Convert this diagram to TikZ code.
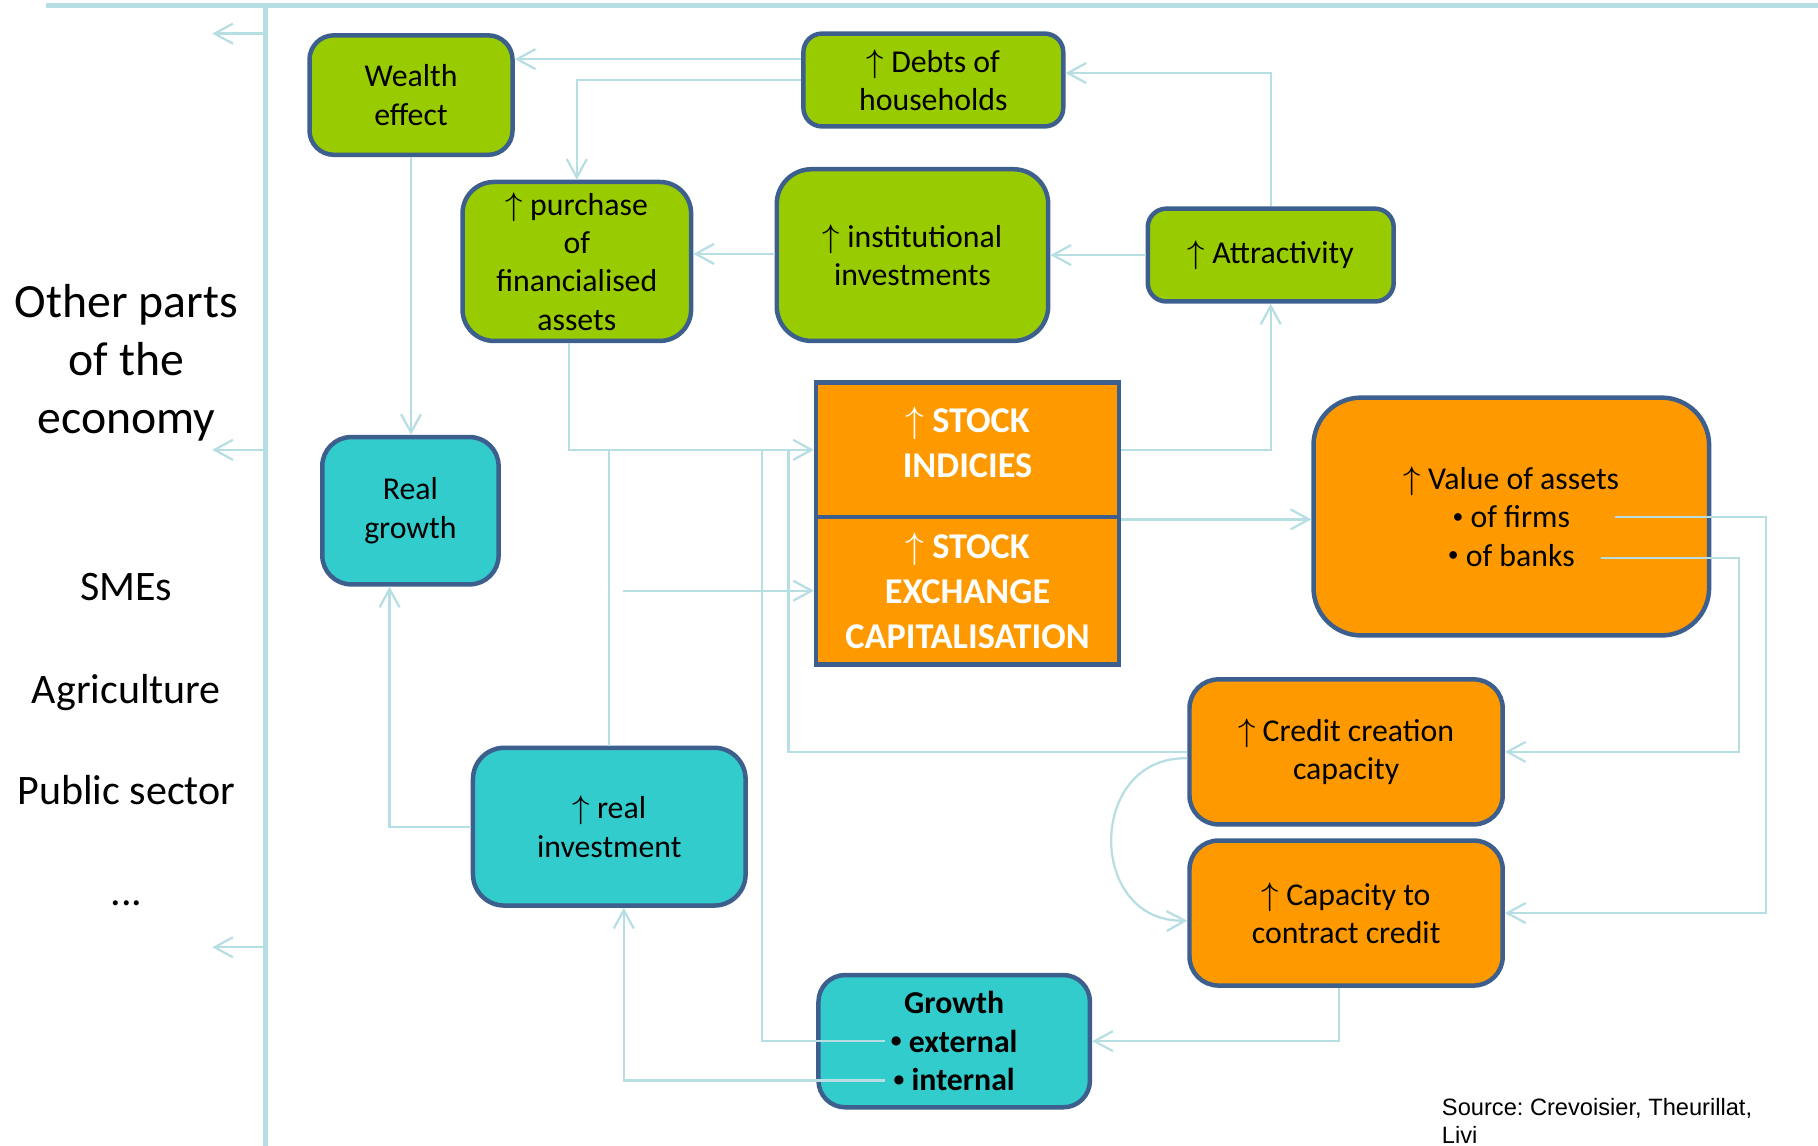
\documentclass[tikz,border=0pt]{standalone}
\usepackage{fontspec}
\setmainfont{Carlito}
\newfontfamily\srcfont{Liberation Sans}
\usetikzlibrary{arrows.meta}
\frenchspacing

\definecolor{leaf}{HTML}{99CC00}
\definecolor{boxteal}{HTML}{33CCCC}
\definecolor{amber}{HTML}{FF9900}
\definecolor{edgeblue}{HTML}{3C5F8E}
\definecolor{flowblue}{HTML}{B7DEE2}

% small list bullet used inside the boxes
\newcommand\itemdot{\raisebox{0.28ex}{\scalebox{0.68}{•}}}

\tikzset{
  cell/.style={draw=edgeblue, line width=1.1pt, align=center, inner sep=0pt,
    font=\fontsize{7.8}{9.4}\selectfont},
  greencell/.style={cell, fill=leaf},
  tealcell/.style={cell, fill=boxteal},
  orangecell/.style={cell, fill=amber},
  stockcell/.style={cell, fill=amber, text=white,
    font=\bfseries\fontsize{8.9}{11.1}\selectfont},
  wire/.style={draw=flowblue, line width=0.55pt},
  headon/.style={-{Straight Barb[length=4.5pt,width=4.9pt,line width=0.55pt]}},
  sidetext/.style={align=center, inner sep=0pt},
}

\begin{document}
\begin{tikzpicture}[x=0.01cm, y=-0.01cm]
\useasboundingbox (0,0) rectangle (1568,988);

% frame: top rule and the axis towards the rest of the economy
\coordinate (ruleL) at (40,5);
\coordinate (ruleR) at (1568,5);
\coordinate (axisTop) at (229,5);
\coordinate (axisBot) at (229,988);
\draw[draw=flowblue, line width=1.3pt] (ruleL) -- (ruleR);
\draw[draw=flowblue, line width=1.15pt] (axisTop) -- (axisBot);

\foreach \yy/\nm in {29/outA, 388/outB, 817/outC}{
  \coordinate (\nm) at (183,\yy);
  \draw[wire, headon] (axisTop |- \nm) -- (\nm);
}

% left-hand labels
\node[sidetext, font=\fontsize{11.7}{14.2}\selectfont] (others) at (109,313) {Other parts\\of the\\economy};
\node[sidetext, font=\fontsize{10.3}{12.4}\selectfont] (smes) at (109,506) {SMEs};
\node[sidetext, font=\fontsize{10.3}{12.4}\selectfont] (agri) at (109,597) {Agriculture};
\node[sidetext, font=\fontsize{10.3}{12.4}\selectfont] (public) at (109,681) {Public sector};
\node[sidetext, font=\fontsize{10.3}{12.4}\selectfont] (more) at (109,779) {...};

% financial sphere
\node[greencell, minimum width=1.75cm, minimum height=1.03cm, rounded corners=0.21cm] (wealth) at (354.5,82) {Wealth\\effect};
\node[greencell, minimum width=2.24cm, minimum height=0.80cm, rounded corners=0.16cm] (debts) at (805,69) {$\uparrow$ Debts of\\households};
\node[greencell, minimum width=1.97cm, minimum height=1.37cm, rounded corners=0.27cm] (purchase) at (497.5,225.5) {$\uparrow$ purchase\\of\\financialised\\assets};
\node[greencell, minimum width=2.34cm, minimum height=1.48cm, rounded corners=0.30cm] (instit) at (787,220) {$\uparrow$ institutional\\investments};
\node[greencell, minimum width=2.12cm, minimum height=0.80cm, rounded corners=0.16cm] (attract) at (1096,220) {$\uparrow$ Attractivity};

\node[stockcell, minimum width=2.61cm, minimum height=1.16cm, text depth=3.7pt] (stockA) at (834.5,388) {$\uparrow$ STOCK\\INDICIES};
\node[stockcell, minimum width=2.61cm, minimum height=1.27cm] (stockB) at (834.5,509.5) {$\uparrow$ STOCK\\EXCHANGE\\CAPITALISATION};

\node[orangecell, minimum width=3.41cm, minimum height=2.05cm, rounded corners=0.41cm] (value) at (1303.5,445.5) {$\uparrow$ Value of assets\\\itemdot\ of firms\\\itemdot\ of banks};
\node[orangecell, minimum width=2.70cm, minimum height=1.25cm, rounded corners=0.25cm] (credit) at (1161,648.5) {$\uparrow$ Credit creation\\capacity};
\node[orangecell, minimum width=2.70cm, minimum height=1.25cm, rounded corners=0.25cm] (capacity) at (1161,787.5) {$\uparrow$ Capacity to\\contract credit};

% real sphere
\node[tealcell, minimum width=1.52cm, minimum height=1.27cm, rounded corners=0.25cm] (realgrowth) at (354,440.5) {Real\\growth};
\node[tealcell, minimum width=2.35cm, minimum height=1.36cm, rounded corners=0.27cm] (realinv) at (525.5,713) {$\uparrow$ real\\investment};
\node[tealcell, minimum width=2.34cm, minimum height=1.14cm, rounded corners=0.23cm,
      font=\bfseries\fontsize{7.8}{9.4}\selectfont] (growth) at (823,898) {Growth\\\itemdot\ external\\\itemdot\ internal};

% connectors
\draw[wire, headon] (debts.west |- 0,51) -- (wealth.east |- 0,51);
\draw[wire, headon] (debts.west |- 0,69) -| (purchase.north);
\draw[wire, headon] (attract.north) |- (debts.east |- 0,63);
\draw[wire, headon] (attract.west) -- (attract.west -| instit.east);
\draw[wire, headon] (instit.west |- 0,219) -- (purchase.east |- 0,219);
\draw[wire, headon] (wealth.south) -- (wealth.south |- realgrowth.north);
\draw[wire, headon] (purchase.south -| 491,0) |- (stockA.west);
\draw[wire, headon] (stockA.east) -| (attract.south);
\draw[wire, headon] (stockA.south east) -- (stockA.south east -| value.west);

\coordinate (firms) at (1393,446);
\coordinate (banks) at (1381,481);
\draw[wire, headon] (firms) -| (capacity.east -| 1523,0) -- (capacity.east);
\draw[wire, headon] (banks) -| (credit.east -| 1500,0) -- (credit.east);

\draw[wire] (credit.west) -| (stockA.west -| 680,0);
\draw[wire] (realinv.north) -- (realinv.north |- stockA.west);
\coordinate (capfeed) at (537,509.5);
\draw[wire, headon] (capfeed) -- (capfeed -| stockB.west);

\coordinate (extout) at (763,898);
\coordinate (intout) at (763,932);
\draw[wire] (extout) -| (stockA.west -| 657,0);
\draw[wire, headon] (intout) -| (realinv.south -| 538,0);
\draw[wire, headon] (capacity.south -| 1155,0) |- (growth.east);
\draw[wire, headon] (realinv.west) -| (realgrowth.south -| 336,0);
\draw[wire, headon] (credit.west |- 0,654) .. controls (937,652) and (937,796) .. (capacity.west |- 0,794);

% source note
\node[anchor=west, align=left, inner sep=0pt, font=\srcfont\fontsize{5.8}{6.8}\selectfont] (source) at (1243,967) {Source: Crevoisier, Theurillat,\\Livi};
\end{tikzpicture}
\end{document}
